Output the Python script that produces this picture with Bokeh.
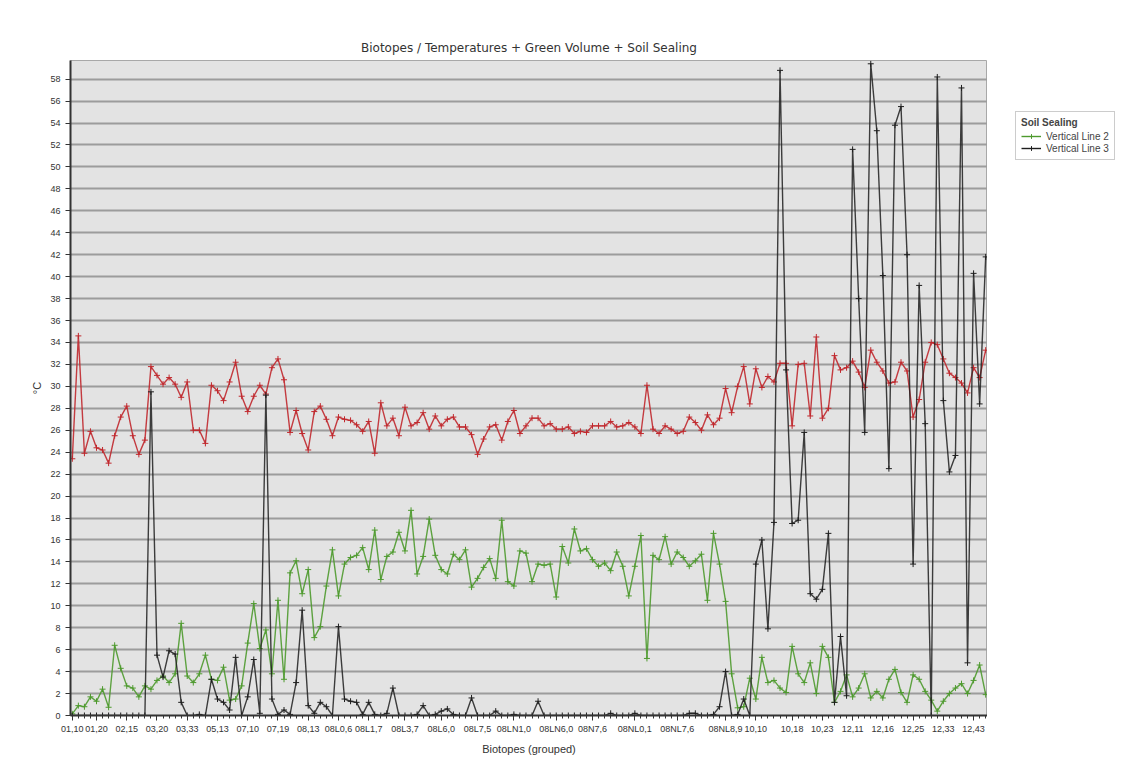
from bokeh.plotting import figure
from bokeh.layouts import row
from bokeh.models import FixedTicker, Legend, LegendItem, Range1d
from bokeh.embed import file_html
from bokeh.resources import INLINE

temperature = [23.4, 34.6, 23.9, 25.9, 24.4, 24.2, 23.0, 25.5, 27.2, 28.2,
               25.5, 23.8, 25.1, 31.8, 31.0, 30.2, 30.8, 30.2, 29.0, 30.4,
               26.0, 26.0, 24.8, 30.1, 29.6, 28.7, 30.4, 32.2, 29.1, 27.7,
               29.1, 30.1, 29.3, 31.7, 32.5, 30.6, 25.8, 27.8, 25.7, 24.2,
               27.7, 28.2, 27.0, 25.5, 27.2, 27.0, 26.9, 26.5, 25.9, 26.8,
               23.9, 28.5, 26.4, 27.1, 25.5, 28.1, 26.4, 26.7, 27.6, 26.1,
               27.3, 26.4, 27.0, 27.2, 26.3, 26.3, 25.6, 23.8, 25.2, 26.3,
               26.5, 25.1, 26.8, 27.8, 25.7, 26.4, 27.1, 27.1, 26.4, 26.6,
               26.1, 26.1, 26.3, 25.7, 25.9, 25.8, 26.4, 26.4, 26.4, 26.8,
               26.3, 26.4, 26.7, 26.3, 25.7, 30.1, 26.1, 25.7, 26.4, 26.1,
               25.7, 25.9, 27.2, 26.7, 26.0, 27.4, 26.5, 27.1, 29.8, 27.6,
               30.0, 31.8, 28.4, 31.6, 29.9, 30.9, 30.4, 32.1, 32.1, 26.4,
               32.0, 32.1, 27.3, 34.5, 27.1, 28.0, 32.8, 31.5, 31.7, 32.3,
               31.3, 29.9, 33.3, 32.2, 31.4, 30.3, 30.4, 32.2, 31.4, 27.2,
               28.8, 32.2, 34.0, 33.8, 32.5, 31.2, 30.8, 30.3, 29.4, 31.7,
               30.8, 33.3]

green_volume = [0.15, 0.9, 0.8, 1.7, 1.3, 2.4, 0.75, 6.4, 4.3, 2.7,
                2.5, 1.7, 2.7, 2.4, 3.2, 3.6, 3.0, 3.8, 8.4, 3.6,
                3.0, 3.8, 5.5, 3.3, 3.2, 4.4, 1.4, 1.5, 2.7, 6.6,
                10.2, 6.1, 7.8, 3.8, 10.5, 3.3, 13.0, 14.1, 11.1, 13.3,
                7.1, 8.1, 11.8, 15.1, 10.9, 13.8, 14.4, 14.6, 15.3, 13.3,
                16.9, 12.4, 14.5, 14.9, 16.7, 15.0, 18.7, 12.9, 14.5, 17.9,
                14.6, 13.3, 12.9, 14.7, 14.2, 15.1, 11.7, 12.5, 13.5, 14.3,
                12.5, 17.8, 12.2, 11.8, 15.0, 14.8, 12.2, 13.8, 13.7, 13.8,
                10.8, 15.4, 13.9, 17.0, 15.0, 15.2, 14.2, 13.6, 13.9, 13.2,
                14.9, 13.6, 10.9, 13.6, 16.4, 5.2, 14.6, 14.2, 16.3, 13.8,
                14.9, 14.4, 13.6, 14.1, 14.7, 10.5, 16.6, 13.8, 10.4, 3.8,
                0.7, 0.8, 3.4, 1.5, 5.3, 3.0, 3.2, 2.5, 2.1, 6.3,
                3.8, 3.0, 4.8, 2.0, 6.3, 5.3, 1.2, 2.2, 3.7, 1.7,
                2.5, 3.8, 1.6, 2.2, 1.6, 3.3, 4.2, 2.1, 1.2, 3.7,
                3.3, 2.2, 1.4, 0.4, 1.3, 2.0, 2.5, 2.9, 2.0, 3.2,
                4.6, 1.9]

soil_sealing = [0, 0, 0, 0, 0, 0, 0, 0, 0, 0,
                0, 0, 0, 29.5, 5.5, 3.5, 5.9, 5.6, 1.2, 0,
                0, 0.1, 0, 3.3, 1.5, 1.2, 0.5, 5.3, 0, 1.7,
                5.1, 0.2, 29.2, 1.5, 0.1, 0.5, 0.1, 3.0, 9.6, 0.9,
                0.2, 1.2, 0.8, 0, 8.1, 1.5, 1.3, 1.2, 0.1, 1.2,
                0.1, 0, 0.2, 2.5, 0, 0, 0, 0.1, 0.9, 0,
                0.1, 0.4, 0.6, 0.1, 0, 0, 1.6, 0, 0, 0,
                0.4, 0, 0, 0.1, 0, 0, 0, 1.3, 0, 0,
                0, 0, 0, 0, 0, 0, 0, 0, 0, 0.2,
                0, 0, 0, 0.2, 0, 0, 0, 0, 0, 0,
                0, 0, 0.2, 0.2, 0, 0, 0.1, 0.8, 4.0, 0,
                0.1, 1.5, 0, 13.8, 16.0, 7.9, 17.6, 58.8, 31.5, 17.5,
                17.8, 25.8, 11.1, 10.6, 11.5, 16.6, 1.2, 7.2, 1.8, 51.6,
                38.0, 25.8, 59.4, 53.3, 40.1, 22.5, 53.8, 55.5, 42.0, 13.8,
                39.2, 26.6, 0, 58.2, 28.7, 22.2, 23.7, 57.2, 4.8, 40.3,
                28.4, 41.8]

tick_positions = [0, 4, 9, 14, 19, 24, 29, 34, 39, 44, 49, 55, 61, 67,
                  73, 80, 86, 93, 100, 108, 113, 119, 124, 129, 134, 139, 144, 149]
tick_labels = ["01,10", "01,20", "02,15", "03,20", "03,33", "05,13", "07,10",
               "07,19", "08,13", "08L0,6", "08L1,7", "08L3,7", "08L6,0", "08L7,5",
               "08LN1,0", "08LN6,0", "08N7,6", "08NL0,1", "08NL7,6", "08NL8,9",
               "10,10", "10,18", "10,23", "12,11", "12,16", "12,25", "12,33", "12,43"]

n = len(temperature)
xs = list(range(n))
FONT = "Liberation Sans"

p = figure(width=987, height=778, output_backend="svg", toolbar_location=None,
           x_range=Range1d(-0.3, n - 0.7), y_range=Range1d(0, 59.7),
           min_border_left=70, min_border_right=0, min_border_top=60,
           min_border_bottom=63)

p.title.text = "Biotopes / Temperatures + Green Volume + Soil Sealing"
p.title.align = "center"
p.title.text_font = "DejaVu Sans"
p.title.text_font_size = "12px"
p.title.text_font_style = "normal"
p.title.text_color = "#333333"
p.title.standoff = 12

p.background_fill_color = "#e3e3e3"
p.border_fill_color = "white"
p.outline_line_color = "#a8a8a8"

p.xgrid.visible = False
p.ygrid.ticker = FixedTicker(ticks=list(range(0, 60, 2)))
p.ygrid.grid_line_color = "#9c9c9c"
p.ygrid.grid_line_width = 2

p.yaxis.ticker = FixedTicker(ticks=list(range(0, 59, 2)))
p.yaxis.axis_label = "°C"
p.xaxis.axis_label = "Biotopes (grouped)"
p.xaxis.ticker = FixedTicker(ticks=tick_positions, minor_ticks=xs)
p.xaxis.major_label_overrides = {t: l for t, l in zip(tick_positions, tick_labels)}

for ax in (p.xaxis[0], p.yaxis[0]):
    ax.axis_line_color = "#333333"
    ax.axis_line_width = 2
    ax.major_tick_line_color = "#333333"
    ax.minor_tick_line_color = "#333333"
    ax.major_tick_in = 0
    ax.major_tick_out = 5
    ax.minor_tick_in = 0
    ax.minor_tick_out = 3
    ax.major_label_text_font = FONT
    ax.major_label_text_font_size = "9px"
    ax.major_label_text_color = "#333333"
    ax.axis_label_text_font = FONT
    ax.axis_label_text_font_size = "11px"
    ax.axis_label_text_font_style = "normal"
    ax.axis_label_text_color = "#333333"
    ax.axis_label_standoff = 6
p.yaxis.minor_tick_out = 0
p.yaxis.axis_label_standoff = 4
p.xaxis.major_label_standoff = 3

RED = "#c0282d"
GREEN = "#4e9a2e"
BLACK = "#1e1e1e"

p.line(xs, temperature, line_color=RED, line_width=1.4, line_alpha=0.9)
p.scatter(xs, temperature, marker="cross", size=6, line_color=RED, line_width=1)
p.line(xs, green_volume, line_color=GREEN, line_width=1.4, line_alpha=0.9)
p.scatter(xs, green_volume, marker="cross", size=6, line_color=GREEN, line_width=1)
p.line(xs, soil_sealing, line_color=BLACK, line_width=1.4, line_alpha=0.85)
p.scatter(xs, soil_sealing, marker="cross", size=6, line_color=BLACK, line_width=1)

# legend panel on the right (its ranges keep the series out of view;
# the renderers only supply the legend glyphs)
q = figure(width=151, height=778, output_backend="svg", toolbar_location=None,
           x_range=Range1d(0, 1), y_range=Range1d(-200, -100),
           min_border_left=0, min_border_right=0,
           min_border_top=60, min_border_bottom=63)
q.axis.visible = False
q.grid.visible = False
q.outline_line_color = None
q.background_fill_color = "white"
q.border_fill_color = "white"
gl = q.line(xs, green_volume, line_color=GREEN, line_width=1.4)
gs = q.scatter(xs, green_volume, marker="cross", size=6, line_color=GREEN, line_width=1)
bl = q.line(xs, soil_sealing, line_color=BLACK, line_width=1.4)
bs = q.scatter(xs, soil_sealing, marker="cross", size=6, line_color=BLACK, line_width=1)

legend = Legend(items=[LegendItem(label="Vertical Line 2", renderers=[gl, gs], index=0),
                       LegendItem(label="Vertical Line 3", renderers=[bl, bs], index=0)],
                title="Soil Sealing", location=(28, 555))
legend.title_text_font = FONT
legend.title_text_font_size = "10px"
legend.title_text_font_style = "bold"
legend.title_standoff = 2
legend.label_text_font = FONT
legend.label_text_font_size = "10px"
legend.label_height = 12
legend.glyph_height = 12
legend.glyph_width = 20
legend.spacing = 0
legend.padding = 5
legend.margin = 0
legend.border_line_color = "#999999"
legend.background_fill_color = "white"
legend.background_fill_alpha = 1
q.add_layout(legend)

layout = row(p, q, spacing=0)
open("out.html", "w").write(file_html(layout, INLINE))
